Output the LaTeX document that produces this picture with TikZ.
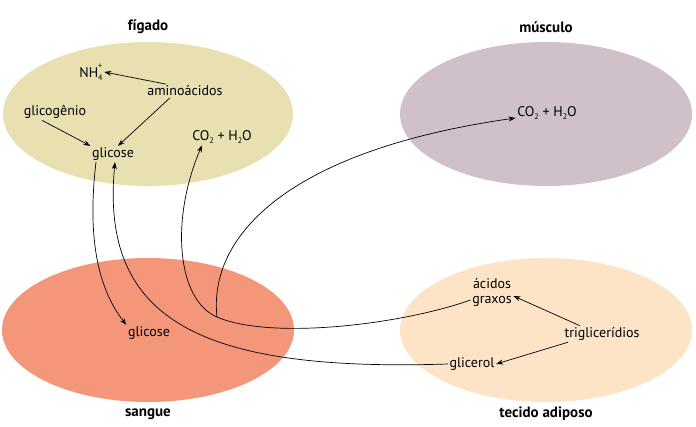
\documentclass[tikz,border=0pt]{standalone}
\usepackage{fontspec}
\setmainfont{PT Sans}
\usetikzlibrary{arrows.meta}
\definecolor{figado}{RGB}{232,224,176}
\definecolor{musculo}{RGB}{207,192,202}
\definecolor{sangue}{RGB}{244,150,122}
\definecolor{adiposo}{RGB}{253,228,199}
\newcommand{\indice}[1]{\raisebox{-0.45ex}{\fontsize{8}{8}\selectfont #1}}
\tikzset{
  rotulo/.style={font=\fontsize{14}{15}\selectfont, inner sep=1.5pt, align=center},
  titulo/.style={font=\fontsize{15}{16}\selectfont\bfseries},
  seta/.style={-{Stealth[length=7pt,width=5pt]}, line width=0.7pt}
}
\begin{document}
\begin{tikzpicture}[x=1pt,y=-1pt]
    \useasboundingbox (0,0) rectangle (696,426);
    \fill [figado] (148,114) ellipse [x radius=145pt, y radius=72pt];
    \fill [musculo] (546,114) ellipse [x radius=146pt, y radius=72pt];
    \fill [sangue] (148,330) ellipse [x radius=146pt, y radius=72pt];
    \fill [adiposo] (546,330) ellipse [x radius=146pt, y radius=72pt];
    \node [titulo] (tfig) at (148,27) {fígado};
    \node [titulo] (tmus) at (546,27) {músculo};
    \node [titulo] (tsan) at (148,414) {sangue};
    \node [titulo] (tadi) at (546,414) {tecido adiposo};
    \node [rotulo] (nh) at (91,72) {NH\rlap{\raisebox{1.3ex}{\fontsize{8}{8}\selectfont +}}\indice{4}};
    \node [rotulo] (amino) at (185,91) {aminoácidos};
    \node [rotulo] (glicog) at (55,112) {glicogênio};
    \node [rotulo] (glicf) at (113,154) {glicose};
    \node [rotulo] (co2f) at (222,137) {CO\indice{2} + H\indice{2}O};
    \node [rotulo] (co2m) at (547,113) {CO\indice{2} + H\indice{2}O};
    \node [rotulo] (glics) at (149,333) {glicose};
    \node [rotulo] (acidos) at (492,292) {ácidos\\graxos};
    \node [rotulo] (trig) at (602,334) {triglicerídios};
    \node [rotulo] (glicerol) at (472,364) {glicerol};
    \coordinate (ramo) at (217,317);
    \draw [seta] (amino.160) -- (nh.east);
    \draw [seta] ([xshift=-15pt]amino.south) -- ([xshift=5pt]glicf.north);
    \draw [seta] ([xshift=-13pt]glicog.south) -- (glicf.north west);
    \draw [seta] ([xshift=-17pt]glicf.south) .. controls (88,230) and (95,285) .. (glics.north west);
    \draw [seta] (glicerol.west) .. controls (200,372) and (100,320) .. ([xshift=2pt]glicf.south);
    \draw [seta] ([yshift=-8pt]acidos.west) .. controls (400,325) and (270,340) .. (ramo)
        .. controls (177,300) and (170,220) .. ([xshift=-20pt]co2f.south);
    \draw [seta] (ramo) .. controls (208,235) and (290,150) .. ([yshift=-5pt]co2m.west);
    \draw [seta] ([xshift=-22pt]trig.north) -- ([yshift=-4pt]acidos.east);
    \draw [seta] ([xshift=-34pt]trig.south) -- (glicerol.east);
\end{tikzpicture}
\end{document}
